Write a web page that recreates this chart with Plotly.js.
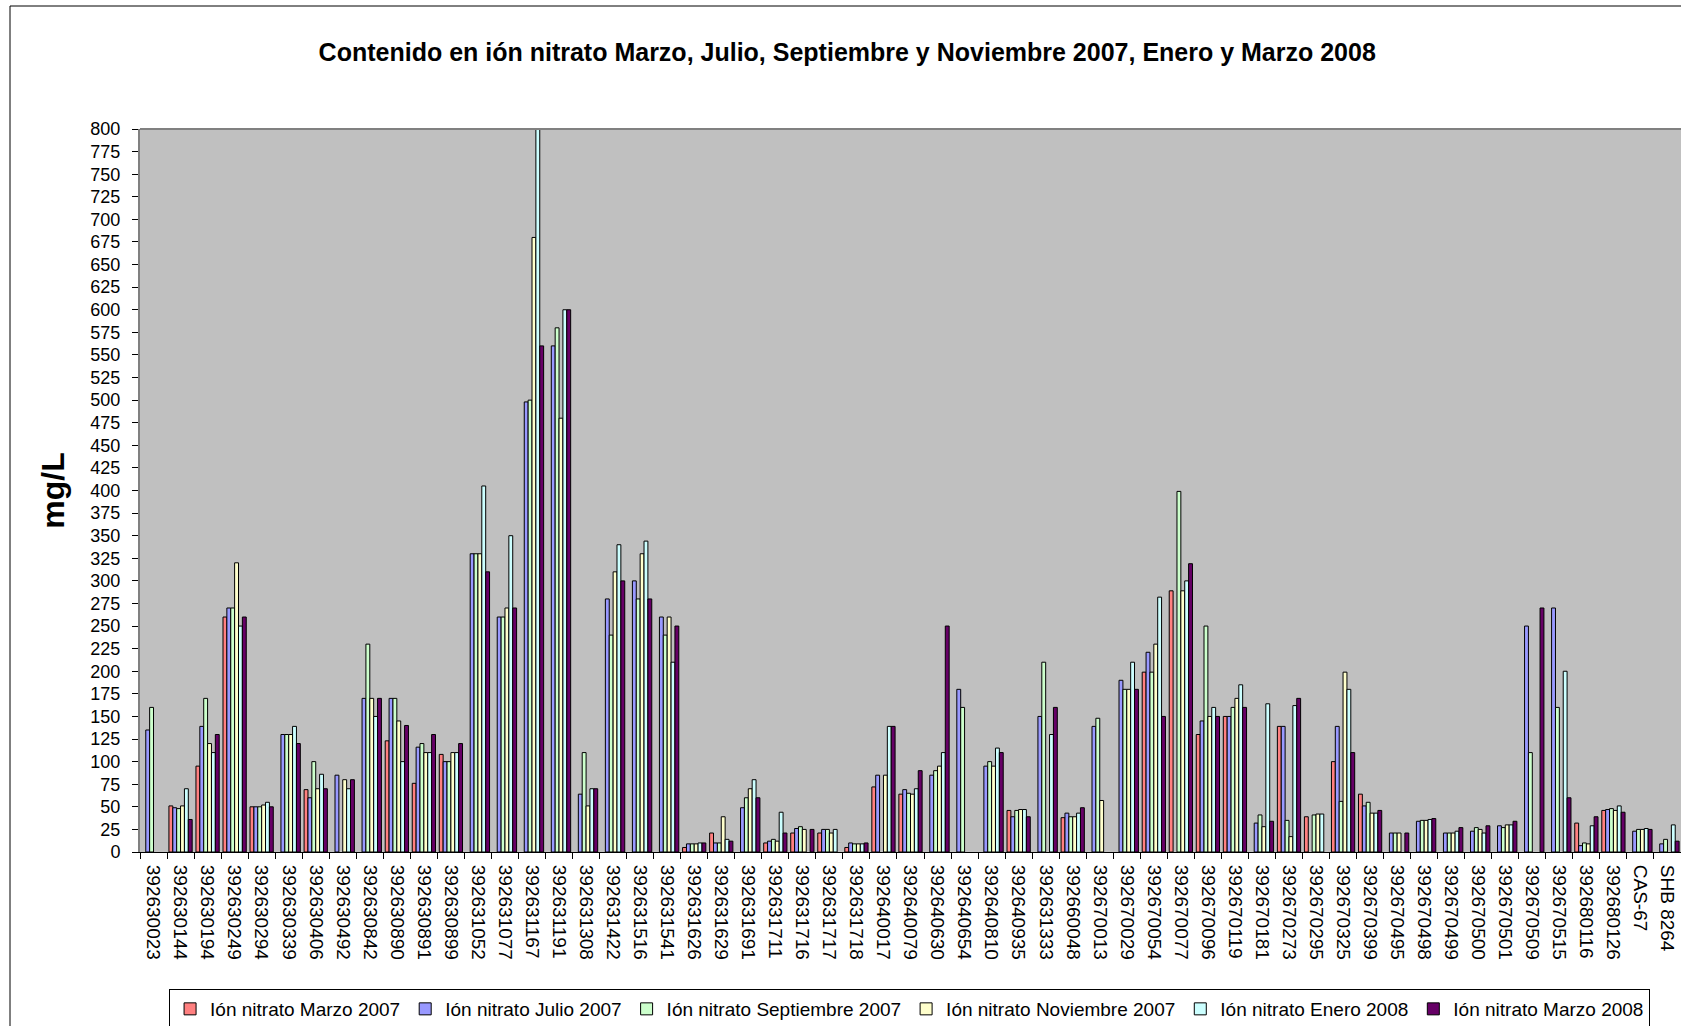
<!DOCTYPE html>
<html>
<head>
<meta charset="utf-8">
<script src="https://cdn.plot.ly/plotly-3.0.1.min.js"></script>
<style>
  html, body { margin: 0; padding: 0; background: #ffffff; }
  #chart { width: 1681px; height: 1026px; }
</style>
</head>
<body>
<div id="chart"></div>
<script>
// Sampling points (well / spring codes)
const stations = [
  "392630023", "392630144", "392630194", "392630249", "392630294", "392630339",
  "392630406", "392630492", "392630842", "392630890", "392630891", "392630899",
  "392631052", "392631077", "392631167", "392631191", "392631308", "392631422",
  "392631516", "392631541", "392631626", "392631629", "392631691", "392631711",
  "392631716", "392631717", "392631718", "392640017", "392640079", "392640630",
  "392640654", "392640810", "392640935", "392631333", "392660048", "392670013",
  "392670029", "392670054", "392670077", "392670096", "392670119", "392670181",
  "392670273", "392670295", "392670325", "392670399", "392670495", "392670498",
  "392670499", "392670500", "392670501", "392670509", "392670515", "392680116",
  "392680126", "CAS-67", "SHB 8264"
];

// Nitrate content (mg/L) per campaign; null = not sampled
const marzo2007 = [
  null, 51, 95, 260, 50, null, 69, null, null, 123, 76, 108,
  null, null, null, null, null, null, null, null, 5, 21, null, 10,
  21, 21, 5, 72, 64, null, null, null, 46, null, 38, null,
  null, 199, 289, 130, 150, null, 139, 39, 100, 64, null, null,
  null, null, null, null, null, 32, 46, null, null
];
const julio2007 = [
  135, 49, 139, 270, 50, 130, 60, 85, 170, 170, 116, 100,
  330, 260, 498, 560, 64, 280, 300, 260, 9, 10, 49, 12,
  26, 25, 10, 85, 69, 85, 180, 95, 39, 150, 43, 139,
  190, 221, null, 145, 150, 32, 139, null, 139, 51, 21, 34,
  21, 23, 29, 250, 270, 7, 47, 23, 9
];
const septiembre2007 = [
  160, 48, 170, 270, 50, 130, 100, null, 230, 170, 120, 100,
  330, 260, 500, 580, 110, 240, 280, 240, 9, 10, 60, 14,
  28, 25, 9, null, 65, 90, 160, 100, 46, 210, 39, 148,
  180, 199, 399, 250, 160, 41, 35, 41, 56, 55, 21, 35,
  21, 27, 27, 110, 160, 10, 48, 25, 14
];
const noviembre2007 = [
  null, 51, 120, 320, 52, 130, 70, 80, 170, 145, 110, 110,
  330, 270, 680, 480, 51, 310, 330, 260, 9, 39, 70, 12,
  25, 21, 9, 85, 64, 95, null, 95, 47, null, 39, 57,
  180, 230, 289, 150, 170, 28, 17, 42, 199, 43, 21, 35,
  21, 25, 30, null, null, 9, 46, 25, null
];
const enero2008 = [
  null, 70, 110, 250, 55, 139, 86, 70, 150, 100, 110, 110,
  405, 350, 800, 600, 70, 340, 344, 210, 10, 14, 80, 44,
  null, 25, 9, 139, 70, 110, null, 115, 47, 130, 43, null,
  210, 282, 300, 160, 185, 164, 162, 42, 180, 43, null, 36,
  23, 21, 30, null, 200, 29, 51, 26, 30
];
const marzo2008 = [
  null, 36, 130, 260, 50, 120, 70, 80, 170, 140, 130, 120,
  310, 270, 560, 600, 70, 300, 280, 250, 10, 12, 60, 21,
  25, null, 10, 139, 90, 250, null, 110, 39, 160, 49, null,
  180, 150, 319, 150, 160, 34, 170, null, 110, 46, 21, 37,
  27, 29, 34, 270, 60, 39, 44, 25, 12
];

const seriesNames = [
  "Ión nitrato Marzo 2007", "Ión nitrato Julio 2007", "Ión nitrato Septiembre 2007",
  "Ión nitrato Noviembre 2007", "Ión nitrato Enero 2008", "Ión nitrato Marzo 2008"
];
const seriesValues = [marzo2007, julio2007, septiembre2007, noviembre2007, enero2008, marzo2008];
const seriesColors = ["#FF8080", "#9999FF", "#CCFFCC", "#FFFFCC", "#CCFFFF", "#660066"];

const FONT = "'Liberation Sans', Arial, Helvetica, sans-serif";

const traces = seriesNames.map((name, i) => ({
  type: "bar",
  name: name,
  x: stations,
  y: seriesValues[i],
  marker: { color: seriesColors[i], line: { color: "#000000", width: 1 } },
  hoverinfo: "skip"
}));

// Plot area geometry in pixels, used to place the frame around the chart
const W = 1681, H = 1026, ML = 140, MR = 0, MT = 129, MB = 174;
const PW = W - ML - MR, PH = H - MT - MB;
const px2x = p => (p - ML) / PW;
const py2y = p => (H - MB - p) / PH;

const layout = {
  width: W,
  height: H,
  autosize: false,
  margin: { l: ML, r: MR, t: MT, b: MB, autoexpand: false },
  paper_bgcolor: "#FFFFFF",
  plot_bgcolor: "#C0C0C0",
  font: { family: FONT, color: "#000000" },
  barmode: "group",
  bargap: 0.14,
  bargroupgap: 0,
  title: {
    text: "<b>Contenido en ión nitrato Marzo, Julio, Septiembre y Noviembre 2007, Enero y Marzo 2008</b>",
    font: { family: FONT, size: 25, color: "#000000" },
    xref: "container", x: 0.504, xanchor: "center",
    yref: "container", y: 1 - 52 / H, yanchor: "middle"
  },
  xaxis: {
    type: "category",
    tickangle: 90,
    tickfont: { family: FONT, size: 19, color: "#000000" },
    ticks: "outside",
    tickson: "boundaries",
    ticklen: 6,
    tickcolor: "#000000",
    ticklabelstandoff: 8,
    showline: true,
    linecolor: "#000000",
    linewidth: 1,
    showgrid: false,
    zeroline: false,
    automargin: false
  },
  yaxis: {
    range: [0, 800],
    tick0: 0,
    dtick: 25,
    ticks: "outside",
    ticklen: 6,
    tickcolor: "#000000",
    ticklabelstandoff: 8,
    tickfont: { family: FONT, size: 18, color: "#000000" },
    showline: true,
    linecolor: "#808080",
    linewidth: 2,
    showgrid: false,
    zeroline: false,
    automargin: false,
    title: {
      text: "<b>mg/L</b>",
      font: { family: FONT, size: 32, color: "#000000" },
      standoff: 16
    }
  },
  legend: {
    orientation: "h",
    x: 0.4994, xanchor: "center",
    y: py2y(989), yanchor: "top",
    bgcolor: "#FFFFFF",
    bordercolor: "#000000",
    borderwidth: 1,
    font: { family: FONT, size: 19, color: "#000000" },
    traceorder: "normal",
    itemwidth: 30
  },
  shapes: [
    // chart frame
    {
      type: "rect", xref: "paper", yref: "paper",
      x0: px2x(10), x1: 1.05, y0: -0.5, y1: py2y(6),
      line: { color: "#000000", width: 1 }, fillcolor: "rgba(0,0,0,0)"
    },
    // top edge of the plot area
    {
      type: "line", xref: "paper", yref: "paper",
      x0: 0, x1: 1, y0: 1, y1: 1,
      line: { color: "#808080", width: 2 }
    }
  ]
};

Plotly.newPlot("chart", traces, layout, { staticPlot: true, displayModeBar: false });
</script>
</body>
</html>
